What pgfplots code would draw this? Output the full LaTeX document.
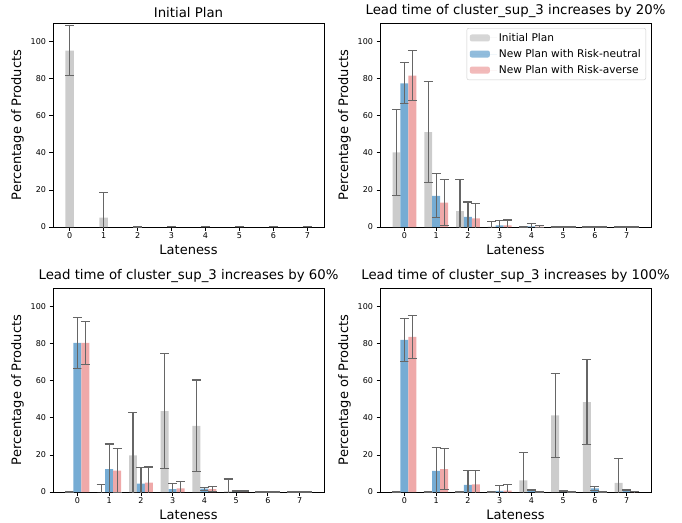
\documentclass[border=0pt]{standalone}
\usepackage{pgfplots}
\usepackage{pgfplotstable}
\pgfplotsset{compat=1.18}
\usepackage{fontspec}
\setmainfont{DejaVu Sans}
\definecolor{cgray}{RGB}{204,204,204}
\definecolor{cblue}{RGB}{118,172,212}
\definecolor{cred}{RGB}{239,169,169}
\definecolor{cerr}{RGB}{102,102,102}

\pgfplotstableread{
x g ge
0 95.1 13.6
1 5.0 13.4
2 0.2 0.2
3 0.1 0
4 0.1 0
5 0.1 0
6 0.1 0
7 0.1 0
}\tabA
\pgfplotstableread{
x g ge n ne r re
0 40.2 23.2 77.5 11.1 81.6 13.5
1 51.2 27.4 16.8 11.9 13.2 12.6
2 8.5 17.1 5.4 8.1 4.7 7.9
3 0.2 2.7 0.9 2.5 0.9 2.9
4 0.1 0.2 0.3 1.5 0.2 0.4
5 0.0 0.0 0.1 0.1 0.0 0.0
6 0.0 0.0 0.0 0.0 0.0 0.0
7 0.0 0.0 0.0 0.0 0.0 0.0
}\tabB
\pgfplotstableread{
x g ge n ne r re
0 0.0 0.0 80.4 13.8 80.4 11.7
1 0.0 4.0 12.4 13.5 11.5 11.9
2 19.8 22.9 4.5 8.5 5.0 8.5
3 43.6 31.1 1.6 3.1 2.0 3.8
4 35.7 24.7 1.8 0.8 1.6 1.3
5 0.3 6.7 0.5 0.3 0.5 0.3
6 0.1 0.1 0.1 0.1 0.1 0.1
7 0.0 0.0 0.1 0.1 0.1 0.1
}\tabC
\pgfplotstableread{
x g ge n ne r re
0 0.0 0.0 82.0 11.8 83.6 11.6
1 0.0 0.0 11.4 12.4 12.3 11.1
2 0.0 0.0 3.8 7.6 4.1 7.3
3 0.0 0.0 0.6 2.8 0.7 3.4
4 6.3 14.8 1.2 0.3 0.1 0.1
5 41.3 22.8 0.4 0.2 0.1 0.1
6 48.5 22.9 2.0 1.1 0.2 0.2
7 4.9 13.1 1.3 0.2 0.2 0.1
}\tabD

\pgfplotsset{
  myax/.style={
    width=271pt, height=204pt, scale only axis,
    xmin=-0.77, xmax=7.77, ymin=0, ymax=110,
    xtick={0,...,7}, ytick={0,20,...,100},
    tick align=outside, xtick pos=bottom, ytick pos=left,
    major tick length=3.5pt,
    tick style={black, line width=0.8pt},
    axis line style={black, line width=0.8pt},
    ticklabel style={font=\fontsize{8}{9}\selectfont},
    xticklabel style={yshift=1.5pt},
    /pgf/number format/assume math mode=true,
    title style={font=\fontsize{13.3}{16}\selectfont, yshift=-4.5pt},
    label style={font=\fontsize{13}{15}\selectfont},
    xlabel style={yshift=0.5pt},
    xlabel={Lateness}, ylabel={Percentage of Products},
  },
  mybar/.style={ybar, bar width=0.25, bar shift=0, draw=none, fill=#1,
    error bars/y dir=both, error bars/y explicit,
    error bars/error bar style={cerr, line width=1.2pt},
    error bars/error mark options={cerr, line width=1.1pt, mark size=4.5pt, rotate=90}},
}

\begin{document}
\begin{tikzpicture}
\useasboundingbox (0,0) rectangle (682pt,-522pt);

\begin{axis}[myax, at={(53pt,-227pt)}, anchor=south west, xmin=-0.49, xmax=7.49, title={Initial Plan}]
\addplot[mybar=cgray] table[x=x, y=g, y error=ge] {\tabA};
\end{axis}

\begin{axis}[myax, at={(380pt,-227pt)}, anchor=south west,
  title={Lead time of cluster\_sup\_3 increases by 20\%},
  legend style={at={(1,1)}, anchor=north east, xshift=-5pt, yshift=-5pt,
    font=\fontsize{10.6}{12}\selectfont, draw=black!20, rounded corners=2pt,
    fill=white, fill opacity=0.8, text opacity=1, row sep=2.5pt, inner sep=3pt},
  legend cell align=left]
\addplot[mybar=cgray, legend image code/.code={\fill[cgray] (0pt,-3.5pt) rectangle (20pt,3.5pt); \path (0pt,0pt) -- (27pt,0pt);}] table[x expr=\thisrow{x}-0.25, y=g, y error=ge] {\tabB};
\addlegendentry{Initial Plan}
\addplot[mybar=cblue, legend image code/.code={\fill[cblue] (0pt,-3.5pt) rectangle (20pt,3.5pt); \path (0pt,0pt) -- (27pt,0pt);}] table[x=x, y=n, y error=ne] {\tabB};
\addlegendentry{New Plan with Risk-neutral}
\addplot[mybar=cred, legend image code/.code={\fill[cred] (0pt,-3.5pt) rectangle (20pt,3.5pt); \path (0pt,0pt) -- (27pt,0pt);}] table[x expr=\thisrow{x}+0.25, y=r, y error=re] {\tabB};
\addlegendentry{New Plan with Risk-averse}
\end{axis}

\begin{axis}[myax, at={(53pt,-492pt)}, anchor=south west,
  title={Lead time of cluster\_sup\_3 increases by 60\%}]
\addplot[mybar=cgray] table[x expr=\thisrow{x}-0.25, y=g, y error=ge] {\tabC};
\addplot[mybar=cblue] table[x=x, y=n, y error=ne] {\tabC};
\addplot[mybar=cred] table[x expr=\thisrow{x}+0.25, y=r, y error=re] {\tabC};
\end{axis}

\begin{axis}[myax, at={(380pt,-492pt)}, anchor=south west,
  title={Lead time of cluster\_sup\_3 increases by 100\%}]
\addplot[mybar=cgray] table[x expr=\thisrow{x}-0.25, y=g, y error=ge] {\tabD};
\addplot[mybar=cblue] table[x=x, y=n, y error=ne] {\tabD};
\addplot[mybar=cred] table[x expr=\thisrow{x}+0.25, y=r, y error=re] {\tabD};
\end{axis}
\end{tikzpicture}
\end{document}
